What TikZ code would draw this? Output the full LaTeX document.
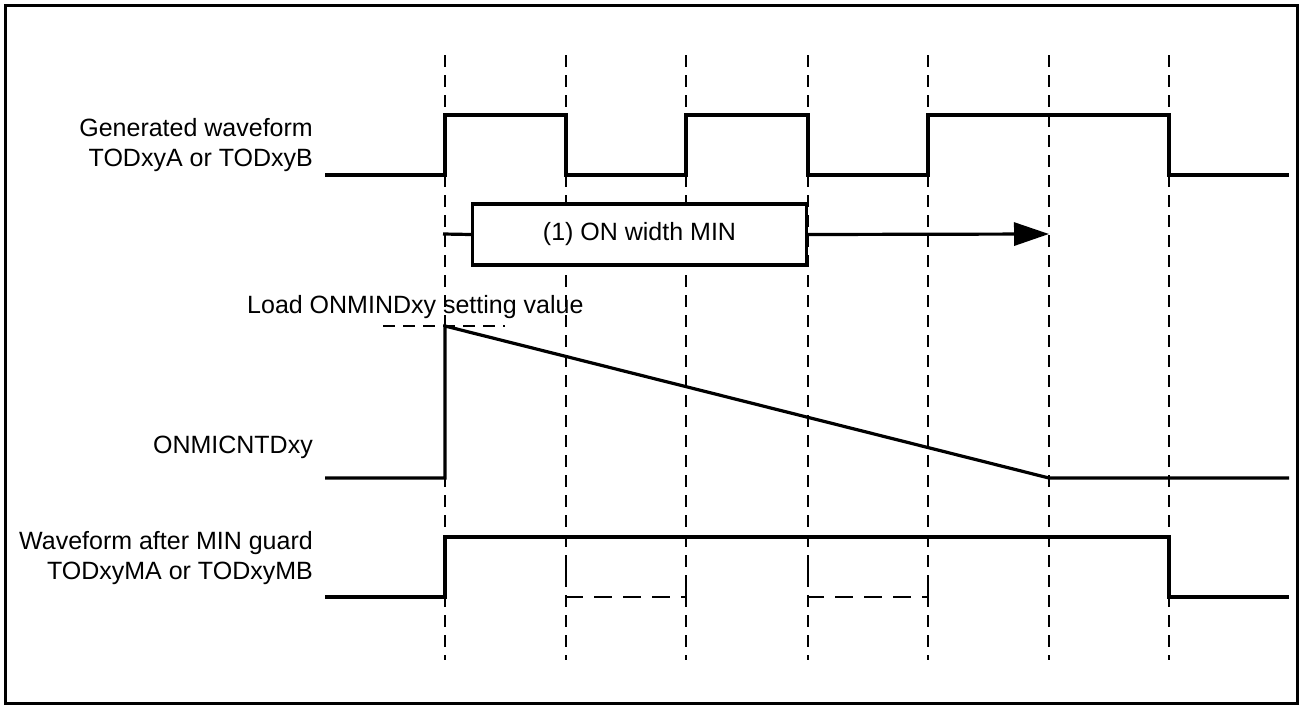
\documentclass[tikz,border=0pt]{standalone}
\usepackage{fontspec}
\setmainfont{Liberation Sans}
\usetikzlibrary{arrows.meta}
\begin{document}
\begin{tikzpicture}[x=1pt,y=-1pt,
  wave/.style={line width=3.2pt,line join=miter},
  guide/.style={line width=2pt,dash pattern=on 12pt off 8pt},
  ghost/.style={line width=2.5pt,dash pattern=on 18pt off 11pt},
  lbl/.style={font=\fontsize{25}{30}\selectfont,inner sep=0pt},
  boxst/.style={draw,fill=white,line width=3.2pt,minimum width=334pt,minimum height=61pt,font=\fontsize{25}{30}\selectfont}]
\useasboundingbox (0,0) rectangle (1301,707);
\draw[line width=3pt] (5,5) rectangle (1297,703);
% guide lines
\foreach \x in {445,566,686,808,928,1049,1169}
  \draw[guide] (\x,55) -- (\x,660);
% generated waveform
\node[lbl,anchor=east,align=right] (lgen) at (313,145) {Generated waveform\\TODxyA or TODxyB};
\draw[wave] (325,175) -- (445,175) -- (445,115) -- (566,115) -- (566,175) -- (686,175) -- (686,115)
  -- (808,115) -- (808,175) -- (928,175) -- (928,115) -- (1169,115) -- (1169,175) -- (1289,175);
% ON width MIN
\coordinate (astart) at (443,234);
\coordinate (aend) at (1049,234);
\node[boxst] (onbox) at (639.5,234.5) {(1) ON width MIN};
\draw[wave] (astart) -- (onbox.west);
\draw[wave,-{Triangle[length=35pt,width=23pt]}] (onbox.east) -- (aend);
% load label
\node[lbl,anchor=base west] (lload) at (247,313) {Load ONMINDxy setting value};
\draw[guide] (383,326) -- (505,326);
% counter
\node[lbl,anchor=east] (lcnt) at (313,447) {ONMICNTDxy};
\draw[wave] (325,478) -- (445,478) -- (445,326) -- (1049,478) -- (1289,478);
% guarded waveform
\node[lbl,anchor=east,align=right] (lgrd) at (313,558) {Waveform after MIN guard\\TODxyMA or TODxyMB};
\draw[wave] (325,597) -- (445,597) -- (445,537) -- (1169,537) -- (1169,597) -- (1289,597);
\draw[ghost] (566,567) -- (566,597) -- (686,597) -- (686,575);
\draw[ghost] (808,566) -- (808,597) -- (928,597) -- (928,577);
\end{tikzpicture}
\end{document}
